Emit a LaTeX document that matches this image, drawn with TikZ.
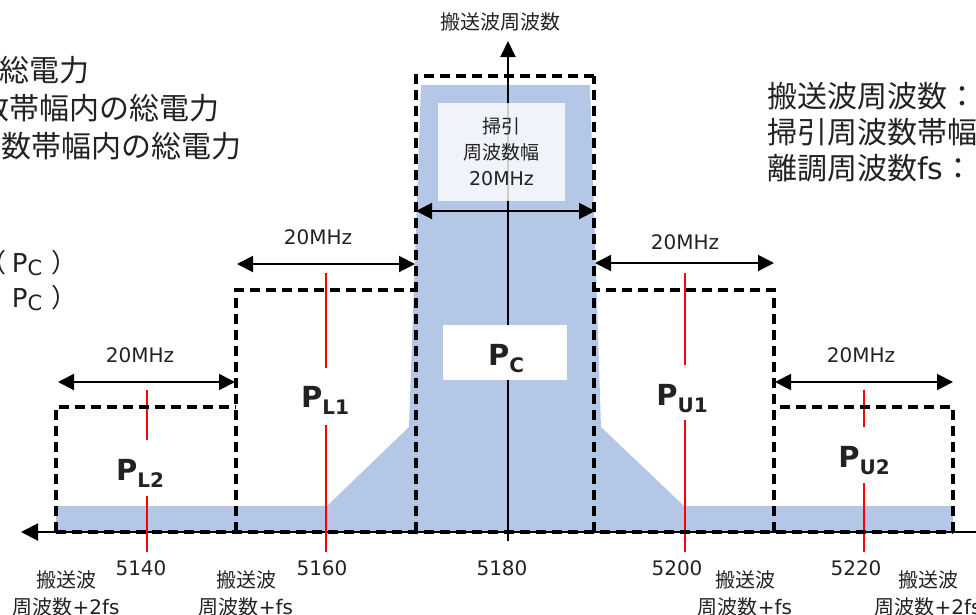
\documentclass[tikz,border=0pt]{standalone}
\usepackage{fontspec}
\setmainfont{DejaVu Sans}
\newfontfamily\jp{Noto Sans CJK JP}
\usetikzlibrary{arrows.meta}
\definecolor{fillblue}{HTML}{B4C7E7}
\definecolor{txt}{HTML}{222222}
\definecolor{mred}{HTML}{FF0000}
\newcommand\fsz[1]{\fontsize{#1}{#1}\selectfont}
\newcommand\bigP[1]{{\fsz{29}\bfseries P\raisebox{-7pt}{\fsz{20}\bfseries #1}}}
\newcommand\smP{P\raisebox{-3pt}{\fsz{21}C}}
\begin{document}
\begin{tikzpicture}[x=1pt,y=-1pt,
  every node/.style={inner sep=0pt,outer sep=0pt,text=txt},
  axisline/.style={line width=2pt,draw=black},
  dimline/.style={line width=2pt,draw=black,{Triangle[length=16pt,width=16pt]}-{Triangle[length=16pt,width=16pt]}},
  dashln/.style={draw=black,line width=3.2pt,dash pattern=on 10pt off 6pt},
  boxarea/.style={minimum width=#1},
  redline/.style={draw=mred,line width=2pt},
  numlbl/.style={font=\fsz{20}},
  jlbl/.style={font=\jp\fontsize{20}{27}\selectfont,align=center},
  bigtxt/.style={font=\jp\fsz{30}},
  plbl/.style={anchor=base}]
\useasboundingbox (0,0) rectangle (976,614);
\clip (0,0) rectangle (976,614);

% spectrum
\fill[fillblue] (56,532) -- (56,506) -- (327,506) -- (409,427) -- (421,85) -- (590,85)
  -- (601,427) -- (684,506) -- (953,506) -- (953,532) -- cycle;

% axes
\coordinate (xL) at (21,532); \coordinate (xR) at (993,532);
\draw[axisline,{Triangle[length=17pt,width=17pt]}-{Triangle[length=17pt,width=17pt]}] (xL) -- (xR);
\coordinate (yB) at (508,541); \coordinate (yT) at (508,41);
\draw[axisline,-{Triangle[length=16pt,width=15pt]}] (yB) -- (yT);

% red centre markers
\draw[redline] (147,390) -- (147,440) (147,496) -- (147,552);
\draw[redline] (326,273) -- (326,368) (326,425) -- (326,552);
\draw[redline] (685,273) -- (685,365) (685,420) -- (685,552);
\draw[redline] (864,390) -- (864,427) (864,483) -- (864,552);

% band areas (outlined by dashed paths sharing edges)
\node[boxarea=180pt,minimum height=125pt] (bL2) at (146,469.5) {};
\node[boxarea=180pt,minimum height=242pt] (bL1) at (326,411) {};
\node[boxarea=178pt,minimum height=456pt] (bC) at (505,304) {};
\node[boxarea=180pt,minimum height=242pt] (bU1) at (684,411) {};
\node[boxarea=179pt,minimum height=125pt] (bU2) at (863.5,469.5) {};
\draw[dashln] (bL2.south west) -- (bL2.north west) -- (bL2.north east);
\draw[dashln] (bL1.south west) -- (bL1.north west) -- (bL1.north east);
\draw[dashln] (bC.south west) -- (bC.north west) -- (bC.north east);
\draw[dashln] (bC.south east) -- (bC.north east);
\draw[dashln] (bU1.south east) -- (bU1.north east) -- (bU1.north west);
\draw[dashln] (bU2.south east) -- (bU2.north east) -- (bU2.north west);
\draw[dashln] (bL2.south west) -- (bU2.south east);

% sweep box
\node[fill=white,fill opacity=0.8,text opacity=1,minimum width=127pt,minimum height=98pt,
  align=center,font=\jp\fontsize{19}{26}\selectfont] (sw) at (501.5,152)
  {掃引\\周波数幅\\{\rmfamily 20MHz}};

% PC box
\node[fill=white,minimum width=124pt,minimum height=55pt] (pcbox) at (505,352.5) {};
\node[plbl] (pc) at (506,365) {\bigP{C}};

\node[plbl] (pl2) at (140,480) {\bigP{L2}};
\node[plbl] (pl1) at (325,407) {\bigP{L1}};
\node[plbl] (pu1) at (682,405) {\bigP{U1}};
\node[plbl] (pu2) at (864,467) {\bigP{U2}};

% 20MHz dimension arrows
\coordinate (sa) at (416,211); \coordinate (sb) at (595,211);
\coordinate (l1a) at (237,264); \coordinate (l1b) at (415,264);
\coordinate (u1a) at (595,263); \coordinate (u1b) at (774,263);
\coordinate (l2a) at (58,382); \coordinate (l2b) at (235,382);
\coordinate (u2a) at (775,382); \coordinate (u2b) at (953,382);
\draw[dimline] (sa) -- (sb);
\draw[dimline] (l1a) -- (l1b);
\draw[dimline] (u1a) -- (u1b);
\draw[dimline] (l2a) -- (l2b);
\draw[dimline] (u2a) -- (u2b);
\node[numlbl] (w1) at (318,237) {20MHz};
\node[numlbl] (w2) at (685,242.5) {20MHz};
\node[numlbl] (w3) at (140,355) {20MHz};
\node[numlbl] (w4) at (861,355) {20MHz};

% frequency numbers
\node[numlbl] (f1) at (141,568) {5140};
\node[numlbl] (f2) at (322,568) {5160};
\node[numlbl] (f3) at (502,568) {5180};
\node[numlbl] (f4) at (677,568) {5200};
\node[numlbl] (f5) at (856,568) {5220};

% bottom labels
\node[jlbl] (c1) at (66,593) {搬送波\\周波数{\rmfamily +2fs}};
\node[jlbl] (c2) at (246,593) {搬送波\\周波数{\rmfamily +fs}};
\node[jlbl] (c3) at (745,593) {搬送波\\周波数{\rmfamily +fs}};
\node[jlbl] (c4) at (928,593) {搬送波\\周波数{\rmfamily +2fs}};

% top label
\node[font=\jp\fsz{20}] (top) at (500,22) {搬送波周波数};

% left texts
\node[bigtxt,anchor=base east] (t1) at (89.5,81) {総電力};
\node[bigtxt,anchor=base east] (t2) at (219.5,119) {数帯幅内の総電力};
\node[bigtxt,anchor=base east] (t3) at (241.5,157) {数帯幅内の総電力};
\node[anchor=base west,font=\fsz{26}] (e1) at (-19,272) {{\jp （}\hspace{5pt}\smP\hspace{9pt}{\jp ）}};
\node[anchor=base west,font=\fsz{26}] (e2) at (12,307) {\smP\hspace{9pt}{\jp ）}};

% right texts
\node[bigtxt,anchor=base west] (r1) at (767,107) {搬送波周波数：};
\node[bigtxt,anchor=base west] (r2) at (767,143) {掃引周波数帯幅};
\node[bigtxt,anchor=base west] (r3) at (767,179) {離調周波数{\rmfamily fs}：};
\end{tikzpicture}
\end{document}
